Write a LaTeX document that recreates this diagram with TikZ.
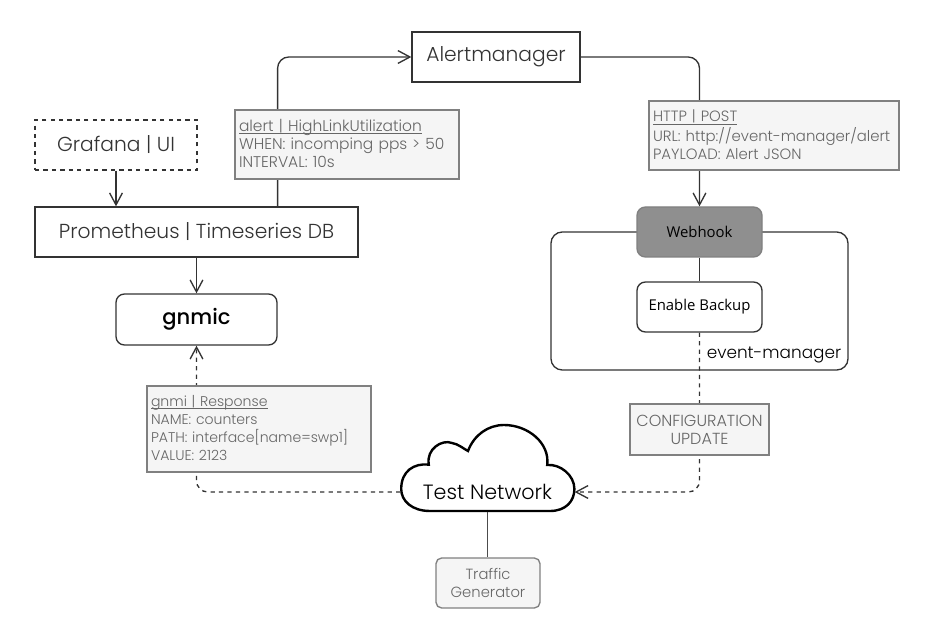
\documentclass[tikz,border=0pt]{standalone}
\usepackage{fontspec}
\setmainfont{Poppins Light}
\newfontfamily\boldish{Poppins Medium}
\newfontfamily\plainsans{Open Sans}
\usetikzlibrary{arrows.meta,calc}
\definecolor{boxtext}{HTML}{333333}
\definecolor{notetext}{HTML}{666666}
\newcommand{\notehead}[1]{\underline{\smash{#1}}\vphantom{Ag}}

\begin{document}
\begin{tikzpicture}[
  line width=0.95pt,
  link/.style={-{Straight Barb[length=3mm,width=3.2mm]}, rounded corners=8pt, draw=black!80},
  wire/.style={rounded corners=8pt, draw=black!80},
  configlink/.style={link, dashed},
  box/.style={draw=black!80, minimum height=1.25cm, align=center, text=boxtext, font=\fontsize{14.4}{17}\selectfont},
  inner/.style={draw=black!80, rounded corners=6pt, minimum width=3.125cm, minimum height=1.25cm, align=center, inner sep=0pt, font=\plainsans\fontsize{10.6}{13}\selectfont},
  note/.style={draw=black!50, fill=black!4, text=notetext, align=left, inner xsep=0.1cm, inner ysep=0pt, font=\fontsize{10.6}{12.8}\selectfont}
]
\useasboundingbox (0,0) rectangle (23.175,15.875);

\node[box, minimum width=4.2cm] (alertmanager) at (12.4,14.45) {Alertmanager};
\node[box, minimum width=4.05cm, dashed] (grafana) at (2.9,12.25) {Grafana | UI};
\node[box, minimum width=8.075cm] (prometheus) at (4.9125,10.075) {Prometheus | Timeseries DB};
\node[box, minimum width=4.025cm, minimum height=1.275cm, rounded corners=6pt, text=black, font=\boldish\fontsize{15}{17}\selectfont] (gnmic) at (4.9125,7.8875) {gnmic};

\node[draw=black!80, rounded corners=8pt, minimum width=7.425cm, minimum height=3.45cm] (eventmanager) at (17.4875,8.35) {};
\node[inner, fill=black!44, draw=black!50] (webhook) at (17.4875,10.075) {Webhook};
\node[inner, fill=white] (enablebackup) at (17.4875,8.2) {Enable Backup};
\node[font=\fontsize{12}{14}\selectfont, text=black] (eventlabel) at (19.35,7) {event-manager};

\node[minimum width=4.325cm, minimum height=0.95cm, inner sep=0pt, font=\fontsize{14.7}{17}\selectfont, text=black] (testnet) at (12.1875,3.575) {Test Network};
\draw[line width=1.7pt, black] (10.75,3.1) .. controls (10.3,3.1) and (10.03,3.35) .. (10.03,3.65)
  .. controls (10.03,4.1) and (10.35,4.3) .. (10.72,4.26)
  .. controls (10.65,4.65) and (11.05,4.9) .. (11.3,4.8)
  .. controls (11.45,4.78) and (11.6,4.65) .. (11.7,4.6)
  .. controls (11.85,5) and (12.2,5.25) .. (12.6,5.25)
  .. controls (13.2,5.25) and (13.75,4.8) .. (13.68,4.25)
  .. controls (14,4.28) and (14.36,4) .. (14.36,3.65)
  .. controls (14.36,3.35) and (14.15,3.1) .. (13.75,3.1) -- cycle;

\node[draw=black!50, fill=black!4, rounded corners=4pt, minimum width=2.6cm, minimum height=1.25cm, align=center, text=notetext, font=\fontsize{10.5}{12.8}\selectfont] (traffic) at (12.2,1.3) {Traffic\\Generator};

\draw[link] (grafana.south) -- (grafana.south |- prometheus.north);
\draw[link] (prometheus.south) -- (gnmic.north);
\draw[link] ($(prometheus.north west)!0.75!(prometheus.north east)$) |- (alertmanager.west);
\draw[link] (alertmanager.east) -| (webhook.north);
\draw[wire] (webhook.south) -- (enablebackup.north);
\draw[configlink] (testnet.west) -| (gnmic.south);
\draw[configlink] (enablebackup.south) |- (testnet.east);
\draw[wire, draw=black!70] (testnet.south) -- (testnet.south |- traffic.north);

\node[note, text width=5.4cm, minimum height=1.725cm, font=\fontsize{11}{12.8}\selectfont] (alertnote) at (8.675,12.2625)
  {\notehead{alert | HighLinkUtilization}\\WHEN: incomping pps > 50\\INTERVAL: 10s};
\node[note, text width=6.05cm, minimum height=1.725cm] (httpnote) at (19.35,12.4875)
  {\notehead{HTTP | POST}\\URL: http://event-manager/alert\\PAYLOAD: Alert JSON};
\node[note, text width=5.4cm, minimum height=2.15cm, font=\fontsize{10}{12.8}\selectfont] (gnminote) at (6.475,5.15)
  {\notehead{gnmi | Response}\\NAME: counters\\PATH: interface[name=swp1]\\VALUE: 2123};
\node[note, align=center, minimum width=3.475cm, minimum height=1.275cm, inner xsep=0pt, font=\fontsize{11.4}{12.8}\selectfont] (confignote) at (17.4875,5.1375)
  {CONFIGURATION\\UPDATE};

\end{tikzpicture}
\end{document}
